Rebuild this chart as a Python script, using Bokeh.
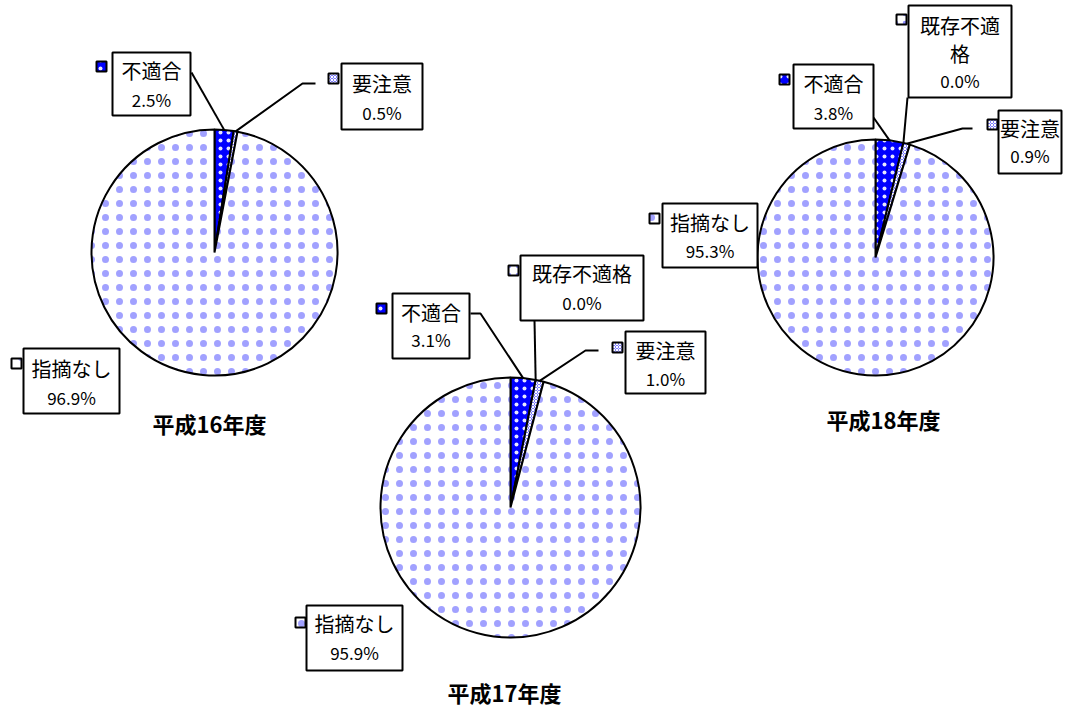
import math
from bokeh.plotting import figure
from bokeh.models import Range1d
from bokeh.core.properties import value
from bokeh.embed import file_html
from bokeh.resources import INLINE

# ---------------- data ----------------
categories = ["不適合", "要注意", "既存不適格", "指摘なし"]
years = ["平成16年度", "平成17年度", "平成18年度"]
h16_values = [2.5, 0.5, None, 96.9]   # 既存不適格 not shown in H16
h17_values = [3.1, 1.0, 0.0, 95.9]
h18_values = [3.8, 0.9, 0.0, 95.3]
all_values = [h16_values, h17_values, h18_values]
# clockwise slice order from 12 o'clock
slice_order = ["不適合", "既存不適格", "要注意", "指摘なし"]

# ---------------- layout (page pixel coords, y downward) ----------------
W, H = 1070, 707
pies = [(214, 252, 123), (510, 507, 130), (875, 257, 118)]
title_pos = [(209, 422), (504, 691), (883, 418)]

label_layout = {
    (0, "不適合"): dict(box=(112, 52, 190, 115), sq=(96, 61), ly=(70, 99), leader=[(191, 72)]),
    (0, "要注意"): dict(box=(341, 63, 422, 129), sq=(328, 73), ly=(83, 112), leader=[(315, 83), (302, 83)]),
    (0, "指摘なし"): dict(box=(23, 348, 119, 413), sq=(11, 358), ly=(368, 397), leader=[]),
    (1, "既存不適格"): dict(box=(520, 255, 643, 320), sq=(508, 265), ly=(273, 302), leader=[(534, 320)]),
    (1, "不適合"): dict(box=(392, 293, 469, 358), sq=(376, 303), ly=(312, 339), leader=[(470, 313), (480, 313)]),
    (1, "要注意"): dict(box=(625, 331, 705, 393), sq=(612, 342), ly=(350, 378), leader=[(598, 350), (585, 350)]),
    (1, "指摘なし"): dict(box=(306, 605, 402, 670), sq=(295, 617), ly=(623, 652), leader=[]),
    (2, "既存不適格"): dict(box=(908, 5, 1011, 97), sq=(896, 14), ly=(25, 53, 80), leader=[(907, 97)], wrap=4),
    (2, "不適合"): dict(box=(793, 64, 873, 128), sq=(779, 74), ly=(83, 112), leader=[(873, 117)]),
    (2, "要注意"): dict(box=(998, 110, 1061, 173), sq=(987, 119), ly=(128, 155), leader=[(972, 128), (962, 128)]),
    (2, "指摘なし"): dict(box=(662, 203, 757, 267), sq=(649, 213), ly=(222, 250), leader=[]),
}

styles = {
    "不適合": dict(fill_color="#0000ff", hatch_pattern="dot", hatch_color="white",
                hatch_scale=8, hatch_weight=0.5, hatch_alpha=0.9),
    "要注意": dict(fill_color="#8080ff", hatch_pattern="diagonal_cross", hatch_color="white",
                hatch_scale=3, hatch_weight=1),
    "既存不適格": dict(fill_color="white", hatch_pattern="dot", hatch_color="#4444ff",
                  hatch_scale=9, hatch_weight=0.5, hatch_alpha=0.6),
    "指摘なし": dict(fill_color="white", hatch_pattern="dot", hatch_color="#4444ff",
                 hatch_scale=14, hatch_weight=0.3, hatch_alpha=0.5),
}

JP = value("Noto Sans CJK JP")


def Y(y):
    return H - y


p = figure(width=W, height=H, output_backend="svg", toolbar_location=None,
           x_range=Range1d(0, W), y_range=Range1d(0, H),
           x_axis_location=None, y_axis_location=None, min_border=0)
p.grid.visible = False
p.outline_line_color = None
p.background_fill_color = "white"

for i, vals in enumerate(all_values):
    cx, cy, r = pies[i]
    data = {c: v for c, v in zip(categories, vals) if v is not None}
    total = sum(data.values())
    cum = 0.0
    mid_pts = {}
    for c in slice_order:
        if c not in data:
            continue
        v = data[c]
        a0 = math.pi / 2 - 2 * math.pi * cum / total
        a1 = math.pi / 2 - 2 * math.pi * (cum + v) / total
        am = math.pi / 2 - 2 * math.pi * (cum + v / 2) / total
        mid_pts[c] = (cx + r * math.cos(am), Y(cy) + r * math.sin(am))
        if v > 0:
            p.wedge(x=[cx], y=[Y(cy)], radius=r, start_angle=a0, end_angle=a1,
                    direction="clock", line_color="black", line_width=2, **styles[c])
        cum += v

    # labels
    for c in categories:
        if c not in data:
            continue
        lay = label_layout[(i, c)]
        if lay["leader"]:
            xs = [pt[0] for pt in lay["leader"]] + [mid_pts[c][0]]
            ys = [Y(pt[1]) for pt in lay["leader"]] + [mid_pts[c][1]]
            p.line(xs, ys, line_color="black", line_width=2)
        x0, y0, x1, y1 = lay["box"]
        p.quad(left=[x0], right=[x1], top=[Y(y0)], bottom=[Y(y1)],
               fill_color="white", line_color="black", line_width=2)
        sx, sy = lay["sq"]
        p.quad(left=[sx], right=[sx + 10], top=[Y(sy)], bottom=[Y(sy + 10)],
               line_color="black", line_width=2, **styles[c])
        wrap = lay.get("wrap")
        name_lines = [c] if not wrap else [c[:wrap], c[wrap:]]
        lines = name_lines + [f"{data[c]:.1f}%"]
        xc = (x0 + x1) / 2
        for k, (txt, ly) in enumerate(zip(lines, lay["ly"])):
            is_pct = k == len(lines) - 1
            p.text(x=[xc], y=[Y(ly)], text=[txt], text_font=JP,
                   text_font_size="17px" if is_pct else "20px",
                   text_align="center", text_baseline="middle", text_color="black")

    tx, ty = title_pos[i]
    p.text(x=[tx], y=[Y(ty)], text=[years[i]], text_font=JP, text_font_size="22px",
           text_font_style="bold", text_align="center", text_baseline="middle",
           text_color="black")

open("out.html", "w").write(file_html(p, INLINE))
